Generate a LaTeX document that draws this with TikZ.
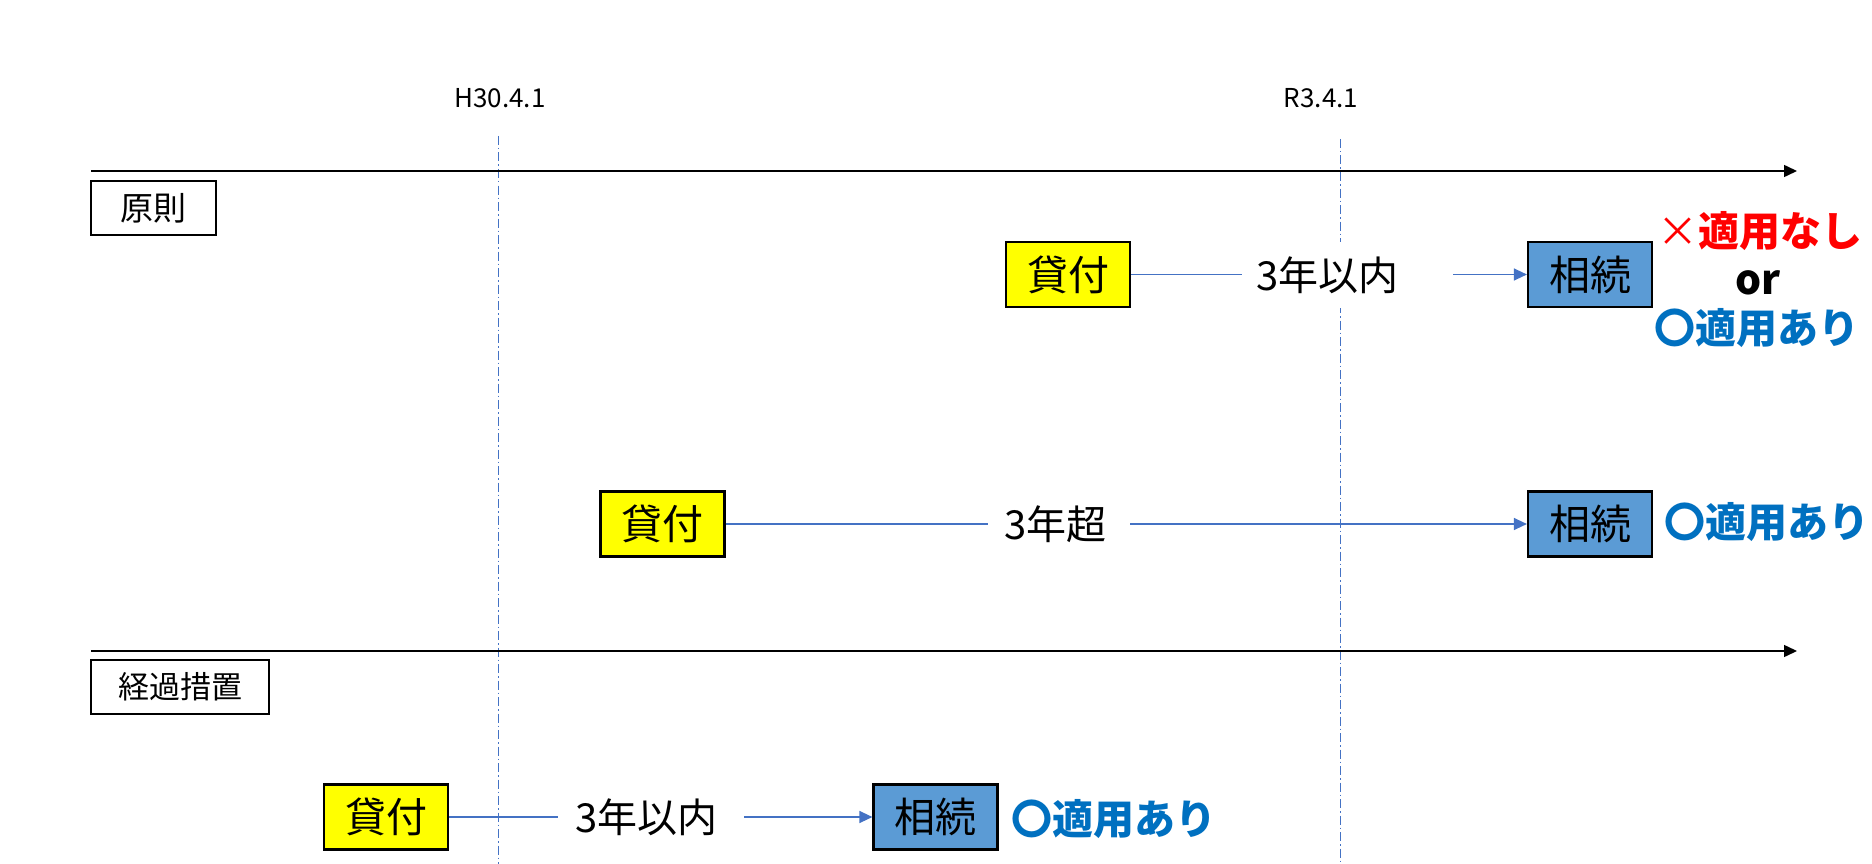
\documentclass[tikz,border=0pt]{standalone}
\usepackage{fontspec}
\setmainfont{Noto Sans CJK JP}
\usetikzlibrary{arrows.meta}
\definecolor{kyellow}{HTML}{FFFF00}
\definecolor{sblue}{HTML}{5B9BD5}
\definecolor{lblue}{HTML}{4472C4}
\definecolor{tblue}{HTML}{0070C0}
\definecolor{tred}{HTML}{FF0000}
\tikzset{
  datelbl/.style={inner sep=0pt, font=\fontsize{26}{30}\selectfont},
  vline/.style={draw=lblue, line width=1pt, dash pattern=on 9pt off 3pt on 1.5pt off 3pt},
  timeline/.style={draw=black, line width=1.5pt, -{Triangle[length=13pt,width=12pt]}},
  catbox/.style={draw=black, line width=2.2pt, fill=white, inner sep=0pt, minimum height=54pt, font=\fontsize{31}{35}\selectfont},
  loanbox/.style={draw=black, line width=2.2pt, fill=kyellow, inner sep=0pt, minimum width=124pt, minimum height=65pt, font=\fontsize{41}{45}\selectfont},
  inhbox/.style={draw=black, line width=2.2pt, fill=sblue, inner sep=0pt, minimum width=124pt, minimum height=65pt, font=\fontsize{41}{45}\selectfont},
  gapnode/.style={fill=white, inner sep=0pt, minimum height=66pt, align=left, font=\fontsize{40}{44}\selectfont},
  conn/.style={draw=lblue, line width=1.3pt},
  connarr/.style={draw=lblue, line width=1.3pt, -{Triangle[length=13pt,width=12pt]}},
  result/.style={inner sep=0pt, font=\fontsize{41}{45}\selectfont\bfseries},
}
\begin{document}
\begin{tikzpicture}[x=1pt,y=-1pt]
\useasboundingbox (0,0) rectangle (1872,864);
\fill[white] (0,0) rectangle (1872,864);

% date labels
\node[datelbl] (lblH) at (500,98) {H30.4.1};
\node[datelbl] (lblR) at (1321,98) {R3.4.1};

% vertical dash-dot lines
\coordinate (hTop) at (498,136);
\coordinate (hBot) at (498,864);
\coordinate (rTop) at (1340,139);
\coordinate (rBot) at (1340,864);
\draw[vline] (hTop) -- (hBot);
\draw[vline] (rTop) -- (rBot);

% timelines
\coordinate (t1s) at (91,171);
\coordinate (t1e) at (1797,171);
\coordinate (t2s) at (91,651);
\coordinate (t2e) at (1797,651);
\draw[timeline] (t1s) -- (t1e);
\draw[timeline] (t2s) -- (t2e);

% category boxes
\node[catbox, minimum width=125pt, font=\fontsize{33}{37}\selectfont] (gensoku) at (153.5,208) {原則};
\node[catbox, minimum width=178pt] (keika) at (180,687) {経過措置};

% row 1
\node[loanbox] (k1) at (1068,274.5) {貸付};
\node[inhbox] (s1) at (1590,274.5) {相続};
\draw[connarr] (k1.east) -- (s1.west);
\node[gapnode, text width=211pt] (g1) at (1347.5,275) {\hspace*{14pt}3年以内};
\node[result, text=tred] (r1a) at (1759.5,231) {\mdseries×\bfseries 適用なし};
\node[result, text=black] (r1b) at (1758,282.5) {or};
\node[result, text=tblue] (r1c) at (1756.5,328) {〇適用あり};

% row 2
\node[loanbox] (k2) at (662.5,524) {貸付};
\node[inhbox] (s2) at (1590,524) {相続};
\draw[connarr] (k2.east) -- (s2.west);
\node[gapnode, text width=142pt] (g2) at (1059,524) {\hspace*{16pt}3年超};
\node[result, text=tblue] (r2) at (1767,522) {〇適用あり};

% row 3
\node[loanbox] (k3) at (386,817) {貸付};
\node[inhbox] (s3) at (935.5,817) {相続};
\draw[connarr] (k3.east) -- (s3.west);
\node[gapnode, text width=186pt] (g3) at (651,817) {\hspace*{17pt}3年以内};
\node[result, text=tblue] (r3) at (1114,819) {〇適用あり};
\end{tikzpicture}
\end{document}
